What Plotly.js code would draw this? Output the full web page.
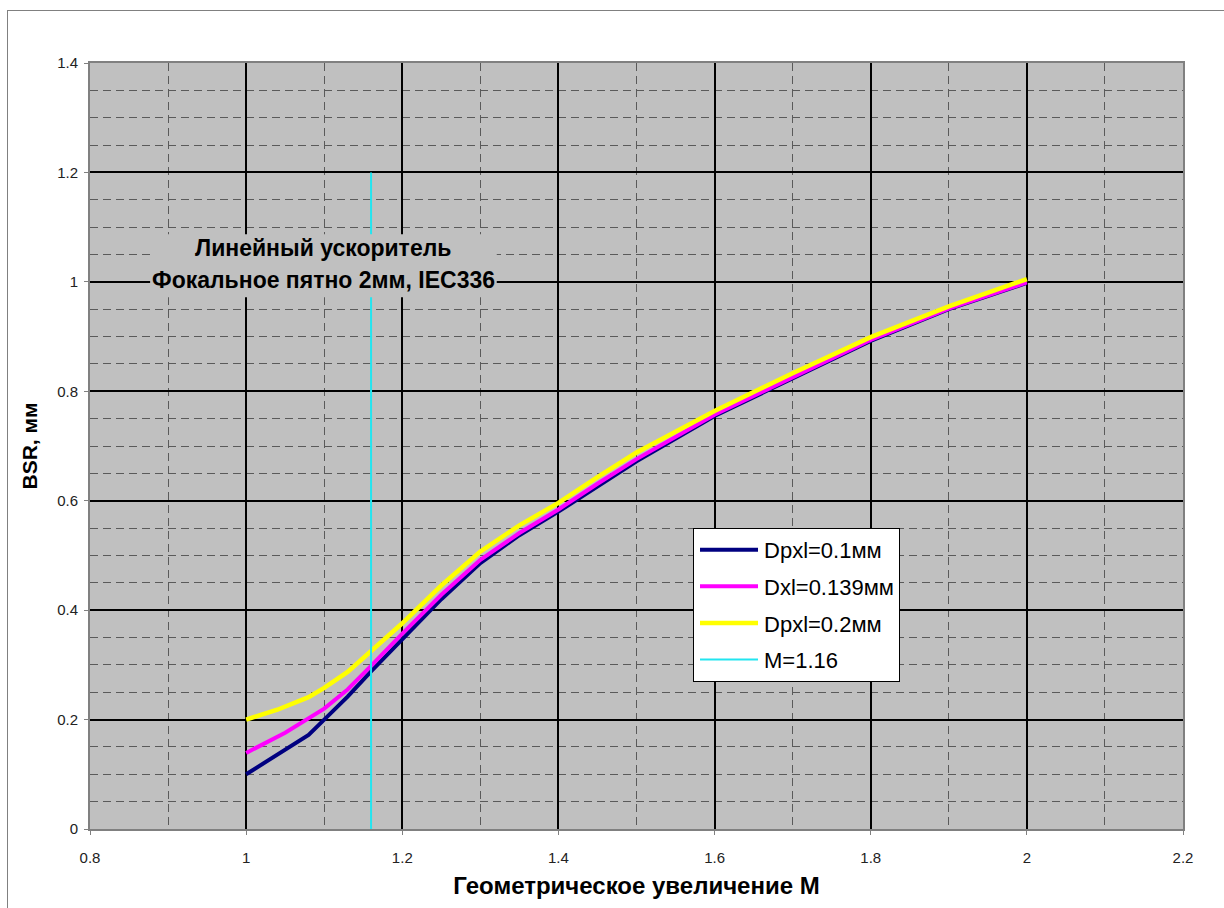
<!DOCTYPE html>
<html>
<head>
<meta charset="utf-8">
<script src="https://cdn.plot.ly/plotly-3.0.1.min.js"></script>
<style>
html,body{margin:0;padding:0;background:#fff;}
#wrap{position:relative;width:1224px;height:908px;overflow:hidden;}
#frame{position:absolute;left:7px;top:10px;width:1300px;height:1000px;border:1px solid #808080;pointer-events:none;}
#chart{position:absolute;left:0;top:0;width:1224px;height:908px;}
</style>
</head>
<body>
<div id="wrap"><div id="chart"></div><div id="frame"></div></div>
<script>
// Data
const mNavy = [1.00, 1.04, 1.08, 1.10, 1.13, 1.16, 1.20, 1.25, 1.30, 1.35, 1.40, 1.45, 1.50, 1.60, 1.70, 1.80, 1.90, 2.00];
const bsrNavy = [0.100, 0.135, 0.172, 0.200, 0.242, 0.288, 0.347, 0.420, 0.486, 0.537, 0.580, 0.627, 0.672, 0.755, 0.823, 0.892, 0.950, 0.998];

const mMagenta = [1.00, 1.05, 1.10, 1.13, 1.16, 1.20, 1.25, 1.30, 1.35, 1.40, 1.45, 1.50, 1.60, 1.70, 1.80, 1.90, 2.00];
const bsrMagenta = [0.139, 0.176, 0.220, 0.255, 0.298, 0.357, 0.428, 0.492, 0.541, 0.584, 0.631, 0.676, 0.757, 0.825, 0.894, 0.951, 0.999];

const mYellow = [1.00, 1.04, 1.08, 1.10, 1.13, 1.16, 1.20, 1.25, 1.30, 1.35, 1.40, 1.45, 1.50, 1.60, 1.70, 1.80, 1.90, 2.00];
const bsrYellow = [0.200, 0.218, 0.241, 0.258, 0.287, 0.325, 0.376, 0.445, 0.507, 0.555, 0.596, 0.643, 0.688, 0.764, 0.833, 0.899, 0.955, 1.005];

const mMarker = [1.16, 1.16];
const bsrMarker = [0, 1.2];

const seriesNames = ['Dpxl=0.1мм', 'Dxl=0.139мм', 'Dpxl=0.2мм', 'M=1.16'];
const annotationLines = ['Линейный ускоритель', 'Фокальное пятно 2мм, IEC336'];
const xTitle = 'Геометрическое увеличение М';
const yTitle = 'BSR, мм';

const FONT = 'Liberation Sans, Arial, sans-serif';

const traces = [
  {x: mNavy, y: bsrNavy, name: seriesNames[0], mode: 'lines', line: {color: '#000080', width: 4}, legendgroup: 'a'},
  {x: mMagenta, y: bsrMagenta, name: seriesNames[1], mode: 'lines', line: {color: '#ff00ff', width: 4}, legendgroup: 'b'},
  {x: mYellow, y: bsrYellow, name: seriesNames[2], mode: 'lines', line: {color: '#ffff00', width: 4.5}, legendgroup: 'c'},
  {x: mMarker, y: bsrMarker, name: seriesNames[3], mode: 'lines', line: {color: '#22e5f0', width: 2}, legendgroup: 'd'}
];

const axisCommon = {
  showline: true, mirror: true, linecolor: '#808080', linewidth: 2,
  ticks: 'outside', ticklen: 4, tickcolor: '#808080', tickwidth: 1,
  showgrid: true, gridcolor: '#000000', gridwidth: 2,
  zeroline: false,
  tickfont: {family: FONT, size: 15, color: '#222'},
  minor: {showgrid: true, gridcolor: '#5a5a5a', gridwidth: 1, griddash: '8px,5px', ticks: ''}
};

const layout = {
  width: 1224, height: 908,
  margin: {l: 90, r: 41, t: 63, b: 79},
  paper_bgcolor: 'rgba(0,0,0,0)',
  plot_bgcolor: '#c0c0c0',
  font: {family: FONT, color: '#000'},
  showlegend: true,
  legend: {
    x: 0.5517, y: 0.393, xanchor: 'left', yanchor: 'top',
    bgcolor: '#ffffff', bordercolor: '#000000', borderwidth: 1,
    font: {family: FONT, size: 22, color: '#000'},
    itemwidth: 60,
    traceorder: 'grouped', tracegroupgap: 5
  },
  xaxis: Object.assign({}, axisCommon, {
    range: [0.8, 2.2], dtick: 0.2, tick0: 0.8,
    minor: Object.assign({}, axisCommon.minor, {dtick: 0.1}),
    ticklabelstandoff: 10,
    title: {text: '<b>' + xTitle + '</b>', font: {family: FONT, size: 24, color: '#000'}, standoff: 12}
  }),
  yaxis: Object.assign({}, axisCommon, {
    range: [0, 1.4], dtick: 0.2, tick0: 0,
    minor: Object.assign({}, axisCommon.minor, {dtick: 0.05}),
    ticklabelstandoff: 3,
    title: {text: '<b>' + yTitle + '</b>', font: {family: FONT, size: 21, color: '#000'}, standoff: 14}
  }),
  shapes: [{
    type: 'rect', xref: 'x', yref: 'y', layer: 'above',
    x0: 0.877, x1: 1.321, y0: 0.972, y1: 1.087,
    fillcolor: '#c0c0c0', line: {width: 0}
  }],
  annotations: [
    {xref: 'x', yref: 'y', x: 1.099, y: 1.062, text: '<b>' + annotationLines[0] + '</b>', showarrow: false,
     font: {family: FONT, size: 23, color: '#000'}},
    {xref: 'x', yref: 'y', x: 1.099, y: 1.004, text: '<b>' + annotationLines[1] + '</b>', showarrow: false,
     font: {family: FONT, size: 23, color: '#000'}}
  ]
};

Plotly.newPlot('chart', traces, layout, {displayModeBar: false, responsive: false}).then(function (gd) {
  // lengthen legend line samples to match the wide item width
  gd.querySelectorAll('.legend .legendlines path').forEach(function (p) {
    p.setAttribute('d', 'M6,0h58');
  });
});
</script>
</body>
</html>
